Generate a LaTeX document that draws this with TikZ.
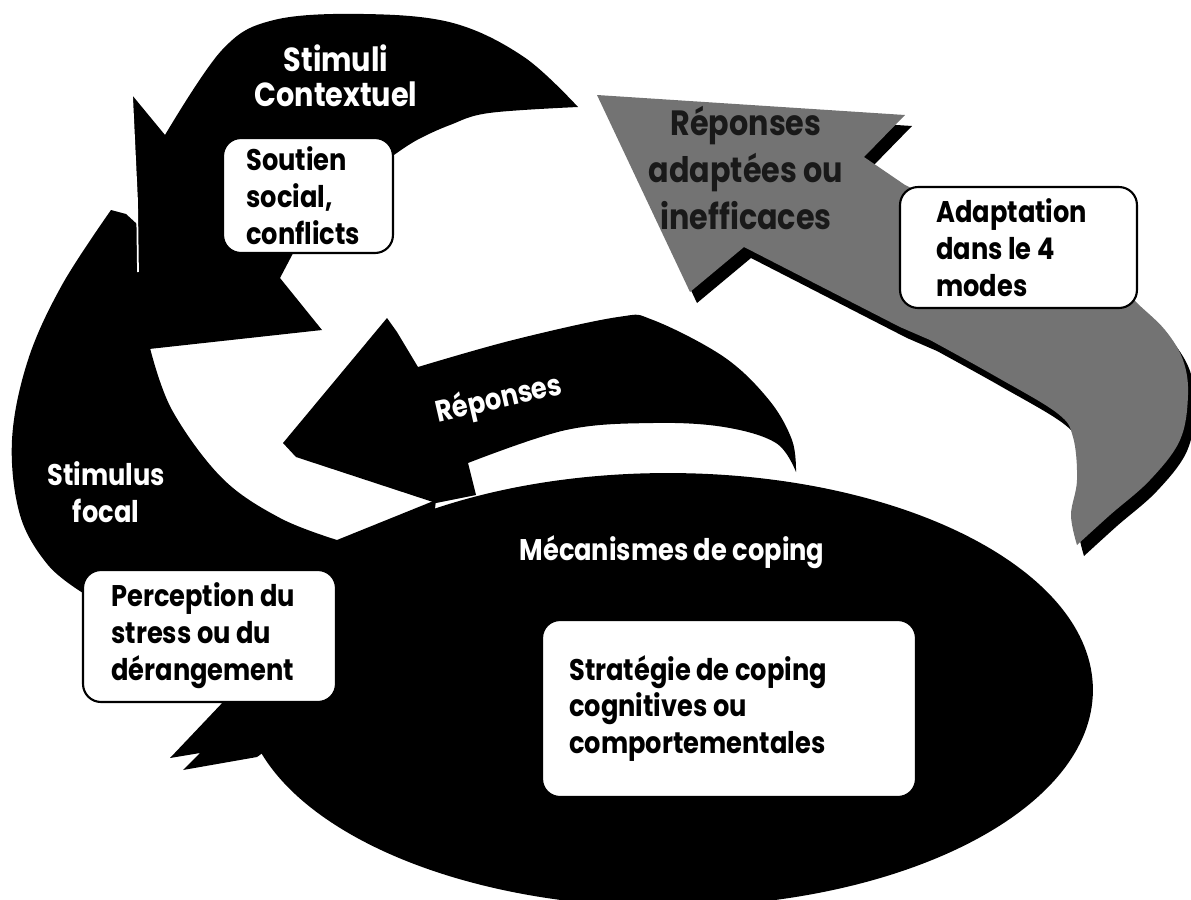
\documentclass[tikz,border=0pt]{standalone}
\usepackage{fontspec}
\setmainfont{Poppins}[FakeStretch=0.86]

\tikzset{
  blackshape/.style={fill=black},
  infobox/.style={draw=black, fill=white, line width=1.2pt, rounded corners=0.36cm},
  boxtext/.style={font=\fontsize{17}{21}\selectfont\bfseries, align=left, inner sep=0pt},
  whitetext/.style={text=white, font=\fontsize{17}{21}\selectfont\bfseries, align=center},
  greytext/.style={text=black!90, font=\fontsize{20}{26.5}\selectfont\bfseries, align=center},
}

\begin{document}
\begin{tikzpicture}[x=0.02cm,y=-0.02cm]
	\useasboundingbox (0,0) rectangle (1191,900);
	\clip (0,0) rectangle (1191,900);

	% grey arrow, first its shadow then the grey itself
	\foreach \dx/\dy/\col in {7/11/black, 0/0/black!55}
	{
		\fill[\col, shift={(\dx,\dy)}] (597,95) -- (905,115) -- (864,157) -- (905,185) -- (1125,290)
			-- plot[smooth, tension=0.6] coordinates {(1125,290) (1137,303) (1165,330) (1183,360) (1188,395) (1180,440) (1150,480) (1110,515) (1077,545)}
			-- plot[smooth, tension=0.6] coordinates {(1077,545) (1071,515) (1077,480) (1073,437) (1057,413) (995,376) (930,340)}
			-- (900,327) -- (744,247) -- (690,292) -- cycle;
	}

	% coping ellipse
	\fill[blackshape] (668,690) ellipse [x radius=8.5cm, y radius=4.34cm];

	% left arrow (stimulus focal)
	\fill[blackshape]
		plot[smooth, tension=0.6] coordinates {(111,210) (62,285) (28,360) (12,440) (20,515) (48,565) (83,593)}
		-- (225,700) -- (170,758) -- (200,753) -- (183,770) -- (257,757) -- (420,640) -- (436,500) -- (337,540)
		-- plot[smooth, tension=0.6] coordinates {(337,540) (280,518) (222,478) (172,410) (150,348)}
		-- (220,300) -- (126,214) -- cycle;

	% middle arrow (reponses)
	\fill[blackshape]
		(283,443) -- (387,318) -- (397,332) -- (418,367)
		-- plot[smooth, tension=0.6] coordinates {(418,367) (513,340) (618,317) (653,320) (724,357) (769,400) (792,440) (796,472)}
		-- plot[smooth, tension=0.6] coordinates {(796,472) (776,443) (724,427) (653,423) (566,430) (468,463)}
		-- (476,495) -- (436,503) -- (296,457) -- cycle;

	% top arrow (stimuli contextuel)
	\fill[blackshape]
		plot[smooth, tension=0.6] coordinates {(578,107) (524,57) (453,23) (364,14) (274,20) (222,50) (165,135)}
		-- (132,95) -- (137,200) -- (140,350) -- (322,330) -- (280,278) -- (300,240) -- (385,165) -- (394,155)
		-- plot[smooth, tension=0.6] coordinates {(394,155) (417,140) (450,125) (489,113) (578,107)} -- cycle;
	% thin white gap where the head lies on the left arrow
	\draw[white, line width=1pt] (132,95) -- (137,200) -- (138,272);

	% boxes
	\node[infobox, minimum width=3.4cm, minimum height=2.3cm] (soutien) at (308,195.5) {};
	\node[boxtext, anchor=west] at ([xshift=0.48cm]soutien.west) {Soutien\\social,\\conflicts};

	\node[infobox, minimum width=4.74cm, minimum height=2.42cm] (adaptation) at (1018.5,247.5) {};
	\node[boxtext, anchor=west] at ([xshift=0.74cm]adaptation.west) {Adaptation\\dans le 4\\modes};

	\node[infobox, minimum width=5.06cm, minimum height=2.64cm] (perception) at (209.5,636) {};
	\node[boxtext, anchor=west] at ([xshift=0.58cm]perception.west) {Perception du\\stress ou du\\dérangement};

	\node[infobox, minimum width=7.48cm, minimum height=3.54cm] (strategie) at (729,708.5) {};
	\node[boxtext, anchor=west] at ([xshift=0.56cm]strategie.west) {Stratégie de coping\\cognitives ou\\comportementales};

	% labels on the shapes
	\node[whitetext, font=\fontsize{19}{20}\selectfont\bfseries] (stimuli) at (336,76) {Stimuli\\Contextuel};
	\node[greytext] (adaptees) at (746,168) {Réponses\\adaptées ou\\inefficaces};
	\node[whitetext, rotate=13] (reponses) at (499,400) {Réponses};
	\node[whitetext] (focal) at (106,492) {Stimulus\\focal};
	\node[whitetext] (mecanismes) at (672,552) {Mécanismes de coping};
\end{tikzpicture}
\end{document}
